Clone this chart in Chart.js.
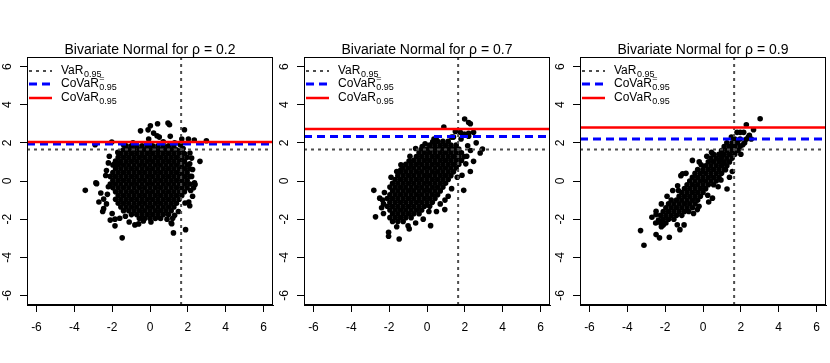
<!DOCTYPE html>
<html><head><meta charset="utf-8">
<script src="https://cdn.jsdelivr.net/npm/chart.js@4.4.1/dist/chart.umd.min.js"></script>
<style>
html,body{margin:0;padding:0;background:#fff;}
#wrap{position:relative;width:830px;height:363px;overflow:hidden;}
.pane{position:absolute;top:0;width:277px;height:363px;}
</style></head><body>
<div id="wrap">
<div class="pane" style="left:0px"><canvas id="c1" width="277" height="363"></canvas></div>
<div class="pane" style="left:277px"><canvas id="c2" width="277" height="363"></canvas></div>
<div class="pane" style="left:553px"><canvas id="c3" width="277" height="363"></canvas></div>
</div>
<script>
// ---- data ----
const TICKS = [-6, -4, -2, 0, 2, 4, 6];
const RHO = [0.2, 0.7, 0.9];
const VAR_95 = 1.645;
const COVAR_EQ = [1.94, 2.33, 2.20];
const COVAR = [2.04, 2.72, 2.81];
const LEGEND_MAIN = ["VaR", "CoVaR", "CoVaR"];
const LEGEND_SUP = ["", "=", ""];
const LEGEND_SUB = "0.95";

const PTS_RHO02 = [
[-1.26,1.84],[-0.98,1.84],[-0.7,1.84],[-0.42,1.84],[-0.14,1.84],[0.14,1.84],[0.42,1.84],[0.7,1.84],[0.98,1.84],[1.26,1.84],
[-1.4,1.64],[-1.12,1.64],[-0.84,1.64],[-0.56,1.64],[-0.28,1.64],[0,1.64],[0.28,1.64],[0.56,1.64],[0.84,1.64],[1.12,1.64],[1.4,1.64],[1.68,1.64],
[-1.54,1.44],[-1.26,1.44],[-0.98,1.44],[-0.7,1.44],[-0.42,1.44],[-0.14,1.44],[0.14,1.44],[0.42,1.44],[0.7,1.44],[0.98,1.44],[1.26,1.44],[1.54,1.44],[1.82,1.44],
[-1.68,1.24],[-1.4,1.24],[-1.12,1.24],[-0.84,1.24],[-0.56,1.24],[-0.28,1.24],[0,1.24],[0.28,1.24],[0.56,1.24],[0.84,1.24],[1.12,1.24],[1.4,1.24],[1.68,1.24],[1.96,1.24],
[-1.82,1.04],[-1.54,1.04],[-1.26,1.04],[-0.98,1.04],[-0.7,1.04],[-0.42,1.04],[-0.14,1.04],[0.14,1.04],[0.42,1.04],[0.7,1.04],[0.98,1.04],[1.26,1.04],[1.54,1.04],[1.82,1.04],
[-1.96,0.84],[-1.68,0.84],[-1.4,0.84],[-1.12,0.84],[-0.84,0.84],[-0.56,0.84],[-0.28,0.84],[0,0.84],[0.28,0.84],[0.56,0.84],[0.84,0.84],[1.12,0.84],[1.4,0.84],[1.68,0.84],[1.96,0.84],
[-1.82,0.64],[-1.54,0.64],[-1.26,0.64],[-0.98,0.64],[-0.7,0.64],[-0.42,0.64],[-0.14,0.64],[0.14,0.64],[0.42,0.64],[0.7,0.64],[0.98,0.64],[1.26,0.64],[1.54,0.64],[1.82,0.64],[2.1,0.64],
[-1.96,0.44],[-1.68,0.44],[-1.4,0.44],[-1.12,0.44],[-0.84,0.44],[-0.56,0.44],[-0.28,0.44],[0,0.44],[0.28,0.44],[0.56,0.44],[0.84,0.44],[1.12,0.44],[1.4,0.44],[1.68,0.44],[1.96,0.44],
[-2.1,0.24],[-1.82,0.24],[-1.54,0.24],[-1.26,0.24],[-0.98,0.24],[-0.7,0.24],[-0.42,0.24],[-0.14,0.24],[0.14,0.24],[0.42,0.24],[0.7,0.24],[0.98,0.24],[1.26,0.24],[1.54,0.24],[1.82,0.24],[2.1,0.24],
[-1.96,0.04],[-1.68,0.04],[-1.4,0.04],[-1.12,0.04],[-0.84,0.04],[-0.56,0.04],[-0.28,0.04],[0,0.04],[0.28,0.04],[0.56,0.04],[0.84,0.04],[1.12,0.04],[1.4,0.04],[1.68,0.04],[1.96,0.04],
[-2.1,-0.16],[-1.82,-0.16],[-1.54,-0.16],[-1.26,-0.16],[-0.98,-0.16],[-0.7,-0.16],[-0.42,-0.16],[-0.14,-0.16],[0.14,-0.16],[0.42,-0.16],[0.7,-0.16],[0.98,-0.16],[1.26,-0.16],[1.54,-0.16],[1.82,-0.16],[2.1,-0.16],
[-1.96,-0.36],[-1.68,-0.36],[-1.4,-0.36],[-1.12,-0.36],[-0.84,-0.36],[-0.56,-0.36],[-0.28,-0.36],[0,-0.36],[0.28,-0.36],[0.56,-0.36],[0.84,-0.36],[1.12,-0.36],[1.4,-0.36],[1.68,-0.36],[1.96,-0.36],
[-1.82,-0.56],[-1.54,-0.56],[-1.26,-0.56],[-0.98,-0.56],[-0.7,-0.56],[-0.42,-0.56],[-0.14,-0.56],[0.14,-0.56],[0.42,-0.56],[0.7,-0.56],[0.98,-0.56],[1.26,-0.56],[1.54,-0.56],[1.82,-0.56],
[-1.68,-0.76],[-1.4,-0.76],[-1.12,-0.76],[-0.84,-0.76],[-0.56,-0.76],[-0.28,-0.76],[0,-0.76],[0.28,-0.76],[0.56,-0.76],[0.84,-0.76],[1.12,-0.76],[1.4,-0.76],[1.68,-0.76],
[-1.82,-0.96],[-1.54,-0.96],[-1.26,-0.96],[-0.98,-0.96],[-0.7,-0.96],[-0.42,-0.96],[-0.14,-0.96],[0.14,-0.96],[0.42,-0.96],[0.7,-0.96],[0.98,-0.96],[1.26,-0.96],[1.54,-0.96],
[-1.68,-1.16],[-1.4,-1.16],[-1.12,-1.16],[-0.84,-1.16],[-0.56,-1.16],[-0.28,-1.16],[0,-1.16],[0.28,-1.16],[0.56,-1.16],[0.84,-1.16],[1.12,-1.16],[1.4,-1.16],
[-1.54,-1.36],[-1.26,-1.36],[-0.98,-1.36],[-0.7,-1.36],[-0.42,-1.36],[-0.14,-1.36],[0.14,-1.36],[0.42,-1.36],[0.7,-1.36],[0.98,-1.36],[1.26,-1.36],
[-1.4,-1.56],[-1.12,-1.56],[-0.84,-1.56],[-0.56,-1.56],[-0.28,-1.56],[0,-1.56],[0.28,-1.56],[0.56,-1.56],[0.84,-1.56],[1.12,-1.56],
[-0.98,-1.76],[-0.7,-1.76],[-0.42,-1.76],[-0.14,-1.76],[0.14,-1.76],[0.42,-1.76],[0.7,-1.76],[0.98,-1.76],
[-0.56,-1.96],[-0.28,-1.96],[0,-1.96],[0.28,-1.96],[0.56,-1.96],
[0.95,3.04],[1.03,2.95],[0.4,3.0],[0.02,2.9],[-0.5,2.63],[-0.1,2.68],[0.19,2.51],[0.37,2.37],[0.49,2.3],[1.07,2.34],[1.82,2.69],[2.03,2.2],[1.68,2.2],[2.34,2.15],[2.98,2.11],
[-2.9,1.9],[-2.02,2.04],[-0.07,2.2],[2.64,1.03],[2.11,1.47],[2.25,0.6],[2.35,-0.1],[2.3,-0.35],[2.15,-0.5],[2.25,-0.8],[2.05,-1.1],[2.1,-1.3],
[1.88,-2.55],[1.24,-2.72],[1.15,-2.24],[-2.86,-0.1],[-2.6,-0.63],[-2.45,-0.95],[-2.3,-1.2],[-2.45,-1.45],[-2.5,-1.6],[-2.1,-2.05],[-1.85,-2.0],[-1.6,-1.95],[-1.85,-2.35],
[-1.47,-2.98],[-0.8,-2.3],[-0.6,-2.25],[-0.35,-2.1],[0.05,-2.15],[0.9,-2.0],[-1.88,0.89],[-1.64,0.94],[-2.3,0.55],[-3.42,-0.49],[-2.34,0.29],[-2.82,-0.14],[-2.2,-0.3],
[1.6,1.9],[1.3,2.0],[-0.9,2.0],[-1.4,1.9],[0.7,2.05],[2.2,1.2],[2.1,0.9],[-2.15,1.3],[-2.7,-1.1],[1.5,-1.6],[1.3,-1.8],[-1.1,-2.15],[-2.0,-1.7],
[2.38,-0.19],[2.2,0.24],[1.12,-2.2],[-2.2,0.95],[-2.25,-0.7],[1.85,-1.15],[1.75,1.7],[-1.7,1.5],[1.2,-1.95],[-1.3,-1.85]
];

const PTS_RHO07 = [
[0.56,2.08],[0.84,2.08],[1.12,2.08],
[0.14,1.88],[0.42,1.88],[0.7,1.88],[0.98,1.88],[1.26,1.88],[1.54,1.88],
[-0.28,1.68],[0,1.68],[0.28,1.68],[0.56,1.68],[0.84,1.68],[1.12,1.68],[1.4,1.68],[1.68,1.68],
[-0.42,1.48],[-0.14,1.48],[0.14,1.48],[0.42,1.48],[0.7,1.48],[0.98,1.48],[1.26,1.48],[1.54,1.48],[1.82,1.48],
[-0.56,1.28],[-0.28,1.28],[0,1.28],[0.28,1.28],[0.56,1.28],[0.84,1.28],[1.12,1.28],[1.4,1.28],[1.68,1.28],[1.96,1.28],
[-0.7,1.08],[-0.42,1.08],[-0.14,1.08],[0.14,1.08],[0.42,1.08],[0.7,1.08],[0.98,1.08],[1.26,1.08],[1.54,1.08],[1.82,1.08],
[-1.12,0.88],[-0.84,0.88],[-0.56,0.88],[-0.28,0.88],[0,0.88],[0.28,0.88],[0.56,0.88],[0.84,0.88],[1.12,0.88],[1.4,0.88],[1.68,0.88],
[-1.26,0.68],[-0.98,0.68],[-0.7,0.68],[-0.42,0.68],[-0.14,0.68],[0.14,0.68],[0.42,0.68],[0.7,0.68],[0.98,0.68],[1.26,0.68],[1.54,0.68],
[-1.4,0.48],[-1.12,0.48],[-0.84,0.48],[-0.56,0.48],[-0.28,0.48],[0,0.48],[0.28,0.48],[0.56,0.48],[0.84,0.48],[1.12,0.48],[1.4,0.48],
[-1.54,0.28],[-1.26,0.28],[-0.98,0.28],[-0.7,0.28],[-0.42,0.28],[-0.14,0.28],[0.14,0.28],[0.42,0.28],[0.7,0.28],[0.98,0.28],[1.26,0.28],
[-1.68,0.08],[-1.4,0.08],[-1.12,0.08],[-0.84,0.08],[-0.56,0.08],[-0.28,0.08],[0,0.08],[0.28,0.08],[0.56,0.08],[0.84,0.08],[1.12,0.08],
[-1.82,-0.12],[-1.54,-0.12],[-1.26,-0.12],[-0.98,-0.12],[-0.7,-0.12],[-0.42,-0.12],[-0.14,-0.12],[0.14,-0.12],[0.42,-0.12],[0.7,-0.12],[0.98,-0.12],
[-1.96,-0.32],[-1.68,-0.32],[-1.4,-0.32],[-1.12,-0.32],[-0.84,-0.32],[-0.56,-0.32],[-0.28,-0.32],[0,-0.32],[0.28,-0.32],[0.56,-0.32],[0.84,-0.32],
[-1.82,-0.52],[-1.54,-0.52],[-1.26,-0.52],[-0.98,-0.52],[-0.7,-0.52],[-0.42,-0.52],[-0.14,-0.52],[0.14,-0.52],[0.42,-0.52],[0.7,-0.52],
[-1.96,-0.72],[-1.68,-0.72],[-1.4,-0.72],[-1.12,-0.72],[-0.84,-0.72],[-0.56,-0.72],[-0.28,-0.72],[0,-0.72],[0.28,-0.72],[0.56,-0.72],
[-2.1,-0.92],[-1.82,-0.92],[-1.54,-0.92],[-1.26,-0.92],[-0.98,-0.92],[-0.7,-0.92],[-0.42,-0.92],[-0.14,-0.92],[0.14,-0.92],[0.42,-0.92],
[-1.96,-1.12],[-1.68,-1.12],[-1.4,-1.12],[-1.12,-1.12],[-0.84,-1.12],[-0.56,-1.12],[-0.28,-1.12],[0,-1.12],[0.28,-1.12],
[-2.1,-1.32],[-1.82,-1.32],[-1.54,-1.32],[-1.26,-1.32],[-0.98,-1.32],[-0.7,-1.32],[-0.42,-1.32],[-0.14,-1.32],[0.14,-1.32],
[-1.96,-1.52],[-1.68,-1.52],[-1.4,-1.52],[-1.12,-1.52],[-0.84,-1.52],[-0.56,-1.52],[-0.28,-1.52],
[-1.82,-1.72],[-1.54,-1.72],[-1.26,-1.72],[-0.98,-1.72],[-0.7,-1.72],[-0.42,-1.72],
[-1.96,-1.92],[-1.68,-1.92],[-1.4,-1.92],[-1.12,-1.92],[-0.84,-1.92],
[-1.82,-2.12],[-1.54,-2.12],[-1.26,-2.12],
[1.99,3.25],[2.2,3.07],[2.29,3.0],[2.46,2.55],[0.89,2.83],[2.93,1.68],[2.81,1.47],[2.46,1.03],[2.29,0.5],[1.94,-0.49],[1.12,-0.8],[0.94,-1.5],
[0.19,-2.34],[-0.94,-2.51],[-1.47,-3.04],[-2.03,-2.69],[-2.03,-2.9],[-2.72,-1.88],[-2.81,-0.49],[-2.5,-0.9],[-2.35,-1.0],[-2.3,-1.2],
[-1.38,0.85],[-1.38,0.59],[-0.1,1.95],[-0.25,1.81],[0.3,2.05],[0.5,2.15],[1.8,2.2],[1.95,2.45],[2.2,2.35],[2.15,1.85],[2.3,1.6],[2.05,0.9],[2.1,1.3],
[1.6,0.2],[1.3,-0.4],[0.7,-1.2],[0.5,-1.6],[-0.2,-2.0],[-0.6,-2.2],[-1.0,-2.35],[-1.6,-2.4],[-2.3,-1.7],[-2.4,-1.4],[-2.25,-0.6],[-1.9,0.2],[-1.6,0.5],
[-0.9,1.3],[-0.6,1.7],[1.5,2.6],[1.3,2.3],[2.6,2.0],[0.1,-1.6],[1.76,2.55],[2.0,2.45],[2.2,2.5],[1.4,2.3],[0.37,2.2],[-0.95,1.05],[1.85,0.3],[0.95,-1.0]
];

const PTS_RHO09 = [
[1.68,2.2],[1.96,2.2],
[1.26,2.0],[1.54,2.0],[1.82,2.0],
[1.12,1.8],[1.4,1.8],[1.68,1.8],[1.96,1.8],
[0.98,1.6],[1.26,1.6],[1.54,1.6],[1.82,1.6],
[0.56,1.4],[0.84,1.4],[1.12,1.4],[1.4,1.4],[1.68,1.4],
[0.42,1.2],[0.7,1.2],[0.98,1.2],[1.26,1.2],[1.54,1.2],
[0.28,1.0],[0.56,1.0],[0.84,1.0],[1.12,1.0],[1.4,1.0],
[0.14,0.8],[0.42,0.8],[0.7,0.8],[0.98,0.8],[1.26,0.8],
[-0.28,0.6],[0,0.6],[0.28,0.6],[0.56,0.6],[0.84,0.6],[1.12,0.6],
[-0.42,0.4],[-0.14,0.4],[0.14,0.4],[0.42,0.4],[0.7,0.4],[0.98,0.4],
[-0.56,0.2],[-0.28,0.2],[0,0.2],[0.28,0.2],[0.56,0.2],[0.84,0.2],
[-0.7,0.0],[-0.42,0.0],[-0.14,0.0],[0.14,0.0],[0.42,0.0],[0.7,0.0],
[-0.84,-0.2],[-0.56,-0.2],[-0.28,-0.2],[0,-0.2],[0.28,-0.2],[0.56,-0.2],
[-0.98,-0.4],[-0.7,-0.4],[-0.42,-0.4],[-0.14,-0.4],[0.14,-0.4],
[-1.12,-0.6],[-0.84,-0.6],[-0.56,-0.6],[-0.28,-0.6],[0,-0.6],
[-1.26,-0.8],[-0.98,-0.8],[-0.7,-0.8],[-0.42,-0.8],[-0.14,-0.8],
[-1.68,-1.0],[-1.4,-1.0],[-1.12,-1.0],[-0.84,-1.0],[-0.56,-1.0],[-0.28,-1.0],
[-1.82,-1.2],[-1.54,-1.2],[-1.26,-1.2],[-0.98,-1.2],[-0.7,-1.2],[-0.42,-1.2],
[-1.96,-1.4],[-1.68,-1.4],[-1.4,-1.4],[-1.12,-1.4],[-0.84,-1.4],[-0.56,-1.4],
[-2.1,-1.6],[-1.82,-1.6],[-1.54,-1.6],[-1.26,-1.6],[-0.98,-1.6],
[-2.24,-1.8],[-1.96,-1.8],[-1.68,-1.8],[-1.4,-1.8],[-1.12,-1.8],
[-2.1,-2.0],[-1.82,-2.0],[-1.54,-2.0],
[-2.24,-2.2],[-1.96,-2.2],
[3.02,3.26],[2.29,2.95],[2.15,2.55],[1.97,2.55],[1.8,2.55],[2.4,2.3],[2.55,2.2],[2.45,2.4],[2.3,2.2],[2.67,2.69],
[-0.56,1.08],[1.27,-0.42],[-1.17,0.28],[-1.34,-0.25],[-1.08,0.38],[-3.3,-2.6],[-3.12,-3.37],[-2.48,-2.81],[-2.3,-2.98],[-1.78,-2.95],[-1.22,-2.55],
[-2.48,-1.59],[-2.48,-1.76],[-2.5,-2.2],[-2.2,-2.4],[-2.1,-2.3],[-1.36,-2.29],[-0.21,-1.33],[1.1,0.94],[1.19,0.59],[0.88,1.1],[1.05,1.4],
[1.6,1.8],[1.85,1.6],[2.0,1.4],[2.1,1.9],[-0.9,0.4],[0.45,1.5],[0.2,1.3],[-0.2,1.0],[1.55,0.5],[1.4,0.2],[0.8,-0.3],[0.5,-0.9],
[-0.3,-1.5],[-0.5,-1.7],[-1.0,-2.3],[-2.7,-1.9],[-1.9,-0.8],[-1.6,-0.5],[-2.2,-1.2],[0.3,-1.1],[2.2,2.0],[1.5,2.3],
[-0.1,0.85],[0.95,0.05],[-1.3,-0.5],[0.25,-0.75],[-2.35,-2.05],[-0.75,-1.6]
];

const PANEL_POINTS = [PTS_RHO02, PTS_RHO07, PTS_RHO09];

// ---- drawing ----
const AX_MIN = -6.5, AX_MAX = 6.5;
const FONT = "'Liberation Sans', Arial, Helvetica, sans-serif";

const rStyle = {
  id: 'rStyle',
  afterDraw(chart, args, opts) {
    const ctx = chart.ctx, a = chart.chartArea, ys = chart.scales.y;
    ctx.save();
    // box
    ctx.strokeStyle = '#000'; ctx.lineWidth = 1;
    ctx.strokeRect(Math.round(a.left) + 0.5, Math.round(a.top) + 0.5, Math.round(a.right - a.left) - 1, Math.round(a.bottom - a.top) - 1);
    // title centred over the plot region
    ctx.fillStyle = '#000';
    ctx.font = '14px ' + FONT;
    ctx.textAlign = 'center'; ctx.textBaseline = 'middle';
    ctx.fillText(opts.title, (a.left + a.right) / 2, 50);
    // rotated y tick labels
    ctx.font = '12px ' + FONT;
    TICKS.forEach(v => {
      const py = ys.getPixelForValue(v);
      ctx.save(); ctx.translate(a.left - 19, py); ctx.rotate(-Math.PI / 2);
      ctx.fillText(String(v), 0, 0); ctx.restore();
    });
    // legend
    const styles = [
      {c: '#4d4d4d', w: 2, d: [3, 4]},
      {c: '#0000ff', w: 3, d: [8, 5]},
      {c: '#ff0000', w: 2.5, d: []}
    ];
    const rows = [14, 27, 41];
    rows.forEach((off, i) => {
      const y = a.top + off;
      ctx.beginPath(); ctx.strokeStyle = styles[i].c; ctx.lineWidth = styles[i].w; ctx.setLineDash(styles[i].d);
      ctx.moveTo(a.left + 2, y); ctx.lineTo(a.left + 25, y); ctx.stroke();
      ctx.setLineDash([]);
      ctx.textAlign = 'left'; ctx.textBaseline = 'middle';
      ctx.font = '12px ' + FONT; ctx.fillStyle = '#000';
      const tx = a.left + 34;
      ctx.fillText(LEGEND_MAIN[i], tx, y);
      const w = ctx.measureText(LEGEND_MAIN[i]).width;
      ctx.font = '9px ' + FONT;
      ctx.fillText(LEGEND_SUB, tx + w + 0.5, y + 4);
      if (LEGEND_SUP[i]) ctx.fillText(LEGEND_SUP[i], tx + w + 0.5, y - 5);
    });
    ctx.restore();
  }
};

function lineDs(pts, color, width, dash, order) {
  return {type: 'line', data: pts, borderColor: color, borderWidth: width, borderDash: dash,
    pointRadius: 0, fill: false, tension: 0, order: order};
}

function makePanel(id, i) {
  const pts = PANEL_POINTS[i].map(p => ({x: p[0], y: p[1]}));
  new Chart(document.getElementById(id), {
    type: 'scatter',
    data: {datasets: [
      lineDs([{x: AX_MIN, y: COVAR[i]}, {x: AX_MAX, y: COVAR[i]}], '#ff0000', 2.5, [], 0),
      lineDs([{x: AX_MIN, y: COVAR_EQ[i]}, {x: AX_MAX, y: COVAR_EQ[i]}], '#0000ff', 3, [8, 5], 1),
      lineDs([{x: AX_MIN, y: VAR_95}, {x: AX_MAX, y: VAR_95}], '#4d4d4d', 2, [3, 4], 2),
      lineDs([{x: VAR_95, y: AX_MIN}, {x: VAR_95, y: AX_MAX}], '#4d4d4d', 2, [3, 4], 3),
      {data: pts, backgroundColor: '#000', borderColor: '#000', borderWidth: 0, pointRadius: 2.8, order: 10}
    ]},
    options: {
      responsive: false, animation: false, events: [],
      layout: {padding: {top: 57, left: 0, right: 2, bottom: 0}},
      plugins: {
        legend: {display: false}, tooltip: {enabled: false}, title: {display: false},
        rStyle: {title: 'Bivariate Normal for \u03C1 = ' + RHO[i]}
      },
      scales: {
        x: {type: 'linear', min: AX_MIN, max: AX_MAX,
          afterBuildTicks: s => { s.ticks = TICKS.map(v => ({value: v})); },
          afterFit: s => { s.height = 58; },
          ticks: {color: '#000', font: {family: FONT, size: 12}, padding: 8, maxRotation: 0, autoSkip: false},
          grid: {drawOnChartArea: false, drawTicks: true, tickLength: 7, color: '#000'},
          border: {display: true, color: '#000'}},
        y: {type: 'linear', min: AX_MIN, max: AX_MAX,
          afterBuildTicks: s => { s.ticks = TICKS.map(v => ({value: v})); },
          afterFit: s => { s.width = 27; },
          ticks: {display: false},
          grid: {drawOnChartArea: false, drawTicks: true, tickLength: 7, color: '#000'},
          border: {display: true, color: '#000'}}
      }
    },
    plugins: [rStyle]
  });
}
makePanel('c1', 0); makePanel('c2', 1); makePanel('c3', 2);
</script>
</body></html>
